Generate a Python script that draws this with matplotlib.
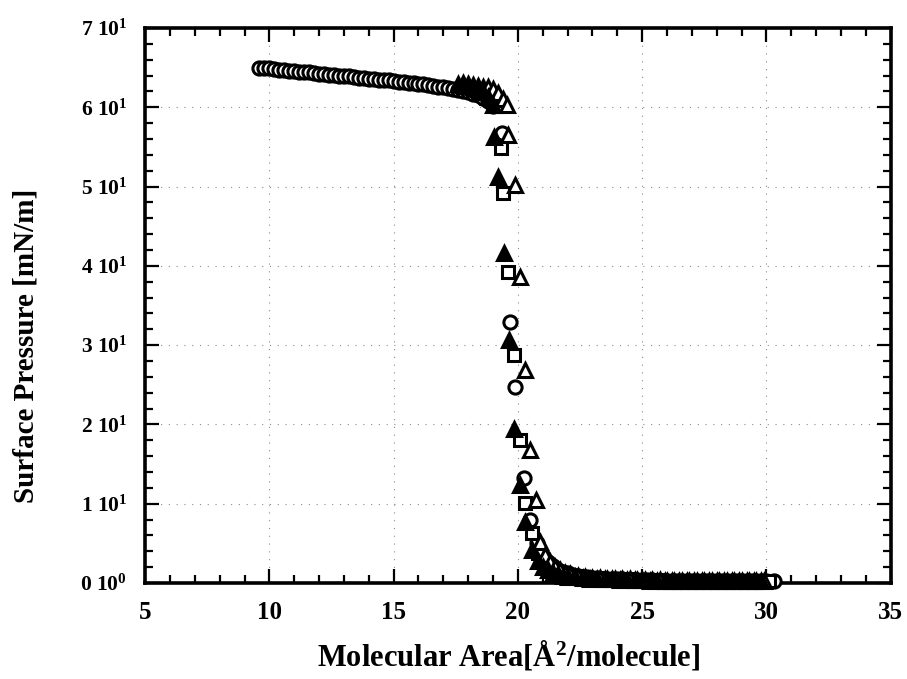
import matplotlib
matplotlib.use('Agg')
import matplotlib.pyplot as plt
from matplotlib.ticker import MultipleLocator, FixedLocator

plt.rcParams['font.family'] = ['Liberation Serif', 'DejaVu Serif']
plt.rcParams['font.weight'] = 'bold'
plt.rcParams['mathtext.fontset'] = 'custom'
plt.rcParams['mathtext.rm'] = 'Liberation Serif:bold'
plt.rcParams['mathtext.it'] = 'Liberation Serif:bold'
plt.rcParams['mathtext.bf'] = 'Liberation Serif:bold'

# open circles
circle_x = [9.6, 9.8, 10.0, 10.2, 10.4, 10.6, 10.8, 11.0, 11.2, 11.4, 11.6, 11.8,
            12.0, 12.2, 12.4, 12.6, 12.8, 13.0, 13.2, 13.4, 13.6, 13.8, 14.0, 14.2,
            14.4, 14.6, 14.8, 15.0, 15.2, 15.4, 15.6, 15.8, 16.0, 16.2, 16.4, 16.6,
            16.8, 17.0, 17.2, 17.4, 17.6, 17.8, 18.0, 18.2, 18.4, 18.6, 18.8, 19.0,
            19.35, 19.68, 19.88, 20.24, 20.5, 20.75, 21.0, 21.2, 21.4, 21.6, 21.8,
            22.0, 22.2, 22.4, 22.6, 22.8, 23.0, 23.2, 23.4, 23.6, 23.8, 24.0, 24.2,
            24.4, 24.6, 24.8, 25.0, 25.2, 25.4, 25.6, 25.8, 26.0, 26.2, 26.4, 26.6,
            26.8, 27.0, 27.2, 27.4, 27.6, 27.8, 28.0, 28.2, 28.4, 28.6, 28.8, 29.0,
            29.2, 29.4, 29.6, 29.8, 30.0, 30.3]
circle_y = [65.0, 64.9, 64.9, 64.8, 64.7, 64.7, 64.6, 64.6, 64.5, 64.4, 64.4, 64.3,
            64.2, 64.2, 64.1, 64.1, 64.0, 63.9, 63.9, 63.8, 63.7, 63.7, 63.6, 63.6,
            63.5, 63.4, 63.4, 63.3, 63.2, 63.2, 63.1, 63.0, 62.9, 62.9, 62.8, 62.7,
            62.6, 62.5, 62.4, 62.3, 62.2, 62.0, 61.9, 61.7, 61.5, 61.2, 60.8, 60.2,
            56.8, 32.9, 24.7, 13.2, 8.0, 5.0, 3.4, 2.6, 2.1, 1.7, 1.4,
            1.2, 1.0, 0.9, 0.8, 0.7, 0.65, 0.6, 0.55, 0.5, 0.5, 0.45, 0.45,
            0.4, 0.4, 0.4, 0.35, 0.35, 0.35, 0.3, 0.3, 0.3, 0.3, 0.3, 0.25,
            0.25, 0.25, 0.25, 0.25, 0.2, 0.2, 0.2, 0.2, 0.2, 0.2, 0.2, 0.2,
            0.2, 0.2, 0.2, 0.2, 0.2, 0.2]

# filled triangles
ftri_x = [17.6, 17.8, 18.0, 18.2, 18.4, 18.6, 18.8, 19.0, 19.05, 19.2, 19.44, 19.64,
          19.84, 20.08, 20.28, 20.56, 20.8, 21.0, 21.2, 21.4, 21.6, 21.8, 22.0,
          22.3, 22.6, 22.9, 23.2, 23.5, 23.8, 24.1, 24.4, 24.7, 25.0, 25.3, 25.6,
          25.9, 26.2, 26.5, 26.8, 27.1, 27.4, 27.7, 28.0, 28.3, 28.6, 28.9, 29.2,
          29.5, 29.8]
ftri_y = [62.9, 62.8, 62.7, 62.5, 62.3, 61.9, 61.3, 60.3, 56.2, 51.2, 41.6, 30.6,
          19.4, 12.4, 7.7, 4.2, 2.8, 2.0, 1.6, 1.3, 1.1, 0.9, 0.8,
          0.7, 0.6, 0.55, 0.5, 0.45, 0.45, 0.4, 0.4, 0.35, 0.35, 0.3, 0.3,
          0.3, 0.3, 0.25, 0.25, 0.25, 0.25, 0.2, 0.2, 0.2, 0.2, 0.2, 0.2,
          0.2, 0.2]

# open squares
sq_x = [17.8, 18.0, 18.2, 18.4, 18.6, 18.8, 19.0, 19.2, 19.3, 19.4, 19.6, 19.85,
        20.1, 20.28, 20.56, 20.8, 21.0, 21.2, 21.4, 21.6, 21.8, 22.0, 22.3, 22.6,
        22.9, 23.2, 23.5, 23.8, 24.1, 24.4, 24.7, 25.0, 25.3, 25.6, 25.9, 26.2,
        26.5, 26.8, 27.1, 27.4, 27.7, 28.0, 28.3, 28.6, 28.9, 29.2, 29.5, 29.8,
        30.1]
sq_y = [62.6, 62.5, 62.3, 62.1, 61.8, 61.4, 61.0, 60.2, 54.9, 49.2, 39.2, 28.7,
        18.0, 10.1, 6.3, 3.8, 2.7, 2.1, 1.7, 1.4, 1.2, 1.0, 0.85, 0.75,
        0.65, 0.6, 0.55, 0.5, 0.45, 0.45, 0.4, 0.4, 0.35, 0.35, 0.3, 0.3,
        0.3, 0.25, 0.25, 0.25, 0.25, 0.2, 0.2, 0.2, 0.2, 0.2, 0.2, 0.2,
        0.2]

# open triangles
otri_x = [17.8, 18.0, 18.2, 18.4, 18.6, 18.8, 19.0, 19.2, 19.4, 19.55, 19.6, 19.88,
          20.08, 20.28, 20.48, 20.72, 20.88, 21.1, 21.3, 21.5, 21.7, 21.9, 22.1,
          22.4, 22.7, 23.0, 23.3, 23.6, 23.9, 24.2, 24.5, 24.8, 25.1, 25.4, 25.7,
          26.0, 26.3, 26.6, 26.9, 27.2, 27.5, 27.8, 28.1, 28.4, 28.7, 29.0, 29.3,
          29.6, 29.9]
otri_y = [63.0, 62.9, 62.8, 62.7, 62.6, 62.5, 62.3, 61.8, 61.0, 60.3, 56.5, 50.2,
          38.6, 26.9, 16.8, 10.5, 5.2, 3.5, 2.6, 2.0, 1.6, 1.3, 1.1,
          0.9, 0.75, 0.65, 0.6, 0.55, 0.5, 0.45, 0.45, 0.4, 0.4, 0.35, 0.35,
          0.3, 0.3, 0.3, 0.25, 0.25, 0.25, 0.25, 0.2, 0.2, 0.2, 0.2, 0.2,
          0.2, 0.2]

y_ticks = [0, 10, 20, 30, 40, 50, 60, 70]
y_labels = ['0 10$^{0}$', '1 10$^{1}$', '2 10$^{1}$', '3 10$^{1}$',
            '4 10$^{1}$', '5 10$^{1}$', '6 10$^{1}$', '7 10$^{1}$']

fig = plt.figure(figsize=(9.07, 6.79), dpi=100)
ax = fig.add_axes([0.160, 0.1414, 0.822, 0.8174])

ms = 9.5
mew = 2.2
ax.plot(circle_x, circle_y, 'o', ms=ms, mfc='white', mec='black', mew=mew, clip_on=False, zorder=3)
ax.plot(sq_x, sq_y, 's', ms=ms - 0.8, mfc='white', mec='black', mew=mew, clip_on=False, zorder=3)
ax.plot(otri_x, otri_y, '^', ms=ms, mfc='white', mec='black', mew=mew, clip_on=False, zorder=3)
ax.plot(ftri_x, ftri_y, '^', ms=ms, mfc='black', mec='black', mew=mew, clip_on=False, zorder=4)

ax.set_xlim(5, 35)
ax.set_ylim(0, 70)
ax.xaxis.set_major_locator(MultipleLocator(5))
ax.xaxis.set_minor_locator(MultipleLocator(1))
ax.yaxis.set_major_locator(FixedLocator(y_ticks))
ax.yaxis.set_minor_locator(MultipleLocator(2))
ax.set_yticklabels(y_labels)

ax.grid(True, which='major', color='0.55', linestyle=(0, (1, 6)), linewidth=0.8, zorder=0)

ax.tick_params(which='both', direction='in', top=True, right=True, width=1.6)
ax.tick_params(which='major', length=10)
ax.tick_params(which='minor', length=6)
ax.tick_params(axis='x', labelsize=18, pad=13)
ax.tick_params(axis='y', labelsize=15.5, pad=13)
for sp in ax.spines.values():
    sp.set_linewidth(2.6)

ax.set_xlabel('Molecular Area[Å$^{2}$/molecule]', fontsize=22, fontweight='bold')
ax.set_ylabel('Surface Pressure [mN/m]', fontsize=21, fontweight='bold')
ax.xaxis.set_label_coords(0.488, -0.100)
ax.yaxis.set_label_coords(-0.142, 0.427)

fig.savefig('out.png', dpi=100)
